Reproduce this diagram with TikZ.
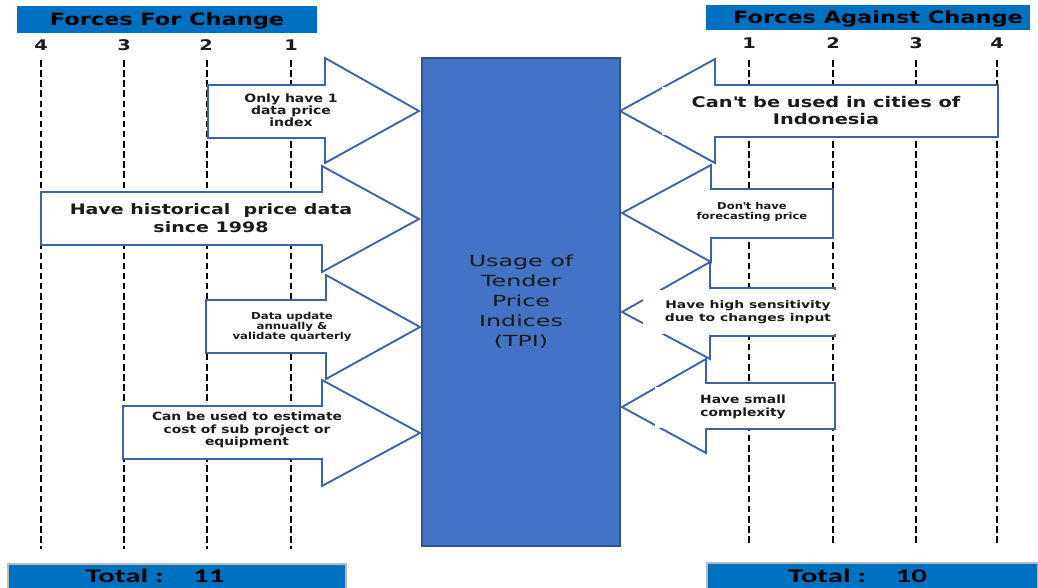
\documentclass[tikz,border=0pt]{standalone}
\usepackage{fontspec}
\newfontfamily\fA[FakeStretch=1.22]{DejaVu Sans}
\newfontfamily\fB[FakeStretch=1.32]{DejaVu Sans}
\newfontfamily\fC[FakeStretch=1.55]{DejaVu Sans}
\newfontfamily\fT[FakeStretch=1.6]{Carlito}
\definecolor{hdrblue}{HTML}{0070C0}
\definecolor{tpiblue}{HTML}{4472C4}
\definecolor{tpiedge}{HTML}{2F528F}
\definecolor{arredge}{HTML}{3D63A6}
\definecolor{ink}{HTML}{1A1A1A}
\newcommand\forcearrow[8]{\draw[forcebox] (#1,#4) -- (#2,#4) -- (#2,#6) -- (#3,#8) -- (#2,#7) -- (#2,#5) -- (#1,#5) -- cycle;}
\tikzset{
  gridline/.style={draw=black, line width=1.7pt, dash pattern=on 4.9pt off 2.7pt},
  forcebox/.style={draw=arredge, fill=white, line width=1.4pt, line join=miter},
  hdrbox/.style={fill=hdrblue, inner sep=0pt, text=black, font=\fB\bfseries\fontsize{12.75}{15}\selectfont, text height=9pt, text depth=0pt},
  totbox/.style={fill=hdrblue, draw=gray!55, line width=1.2pt, inner sep=0pt, text=black, font=\fT\bfseries\fontsize{14.5}{17}\selectfont, text height=7pt, text depth=0pt},
  numtext/.style={font=\fB\bfseries\fontsize{11}{13}\selectfont, inner sep=0pt, anchor=base, text=ink},
  lbl/.style={align=center, inner sep=0pt, text=ink},
  mask/.style={fill=white},
  tpibox/.style={fill=tpiblue, draw=tpiedge, line width=1pt, align=center, text=ink, font=\fC\fontsize{11.5}{15}\selectfont}
}
\begin{document}
\begin{tikzpicture}[x=0.75pt,y=-0.75pt]
\useasboundingbox[fill=white] (0,0) rectangle (1038,588);

% headers
\node[hdrbox, minimum width=300*0.75pt, minimum height=27*0.75pt] (hdrL) at (167,19.5) {Forces For Change};
\node[hdrbox, minimum width=324*0.75pt, minimum height=25*0.75pt] (hdrR) at (868,17.5) {\hspace*{15pt}Forces Against Change};

% scale numbers
\node[numtext] (nl4) at (41,51) {4};
\node[numtext] (nl3) at (124,51) {3};
\node[numtext] (nl2) at (206,51) {2};
\node[numtext] (nl1) at (291,51) {1};
\node[numtext] (nr1) at (749,49) {1};
\node[numtext] (nr2) at (833,49) {2};
\node[numtext] (nr3) at (916,49) {3};
\node[numtext] (nr4) at (997,49) {4};

% dashed scale lines
\foreach \x in {41,124,207,291} \draw[gridline] (\x,60) -- (\x,549);
\foreach \x in {749,833,916,997} \draw[gridline] (\x,60) -- (\x,546);

% forces for change (pointing right)
\forcearrow{208}{325}{419}{85}{138}{58}{163}{111}
\forcearrow{41}{322}{419}{192}{245}{166}{272}{219}
\forcearrow{206}{326}{420}{300}{353}{275}{379}{327}
\forcearrow{123}{322}{420}{406}{459}{380}{486}{433}

% forces against change (pointing left)
\forcearrow{998}{715}{620}{85}{137}{59}{163}{111}
\forcearrow{833}{711}{622}{189}{238}{165}{262}{213}
\forcearrow{835}{710}{622}{288}{336}{262}{359}{312}
\forcearrow{835}{706}{622}{383}{429}{359}{453}{407}

% labels, left
\node[lbl, font=\fA\bfseries\fontsize{8.6}{9}\selectfont] (tl1) at (291,110) {Only have 1\\data price\\index};
\node[lbl, font=\fB\bfseries\fontsize{10.8}{13.5}\selectfont] (tl2) at (211,218) {Have historical\ \ price data\\since 1998};
\node[lbl, font=\fA\bfseries\fontsize{7.2}{7.7}\selectfont] (tl3) at (292,327) {Data update\\annually \&\\validate quarterly};
\node[lbl, font=\fA\bfseries\fontsize{8.5}{9.4}\selectfont] (tl4) at (247,430) {Can be used to estimate\\cost of sub project or\\equipment};

% labels, right
\node[lbl, mask, minimum width=328*0.75pt, minimum height=48*0.75pt, font=\fB\bfseries\fontsize{11}{12.75}\selectfont] (tr1) at (826,111) {Can\textquotesingle t be used in cities of\\Indonesia};
\node[lbl, font=\fA\bfseries\fontsize{7.1}{7.9}\selectfont] (tr2) at (752,212) {Don\textquotesingle t have\\forecasting price};
\node[lbl, mask, minimum width=210*0.75pt, minimum height=44*0.75pt, font=\fB\bfseries\fontsize{7.9}{9.75}\selectfont] (tr3) at (748,312) {Have high sensitivity\\due to changes input};
\node[lbl, mask, minimum width=176*0.75pt, minimum height=41*0.75pt, font=\fA\bfseries\fontsize{8.5}{9.4}\selectfont] (tr4) at (743,407) {Have small\\complexity};

% central block
\node[tpibox, minimum width=198*0.75pt, minimum height=488*0.75pt] (tpi) at (521,302) {Usage of\\Tender\\Price\\Indices\\(TPI)};

% totals
\node[totbox, minimum width=338*0.75pt, minimum height=28*0.75pt] (totL) at (177,578) {Total :\hspace{22pt}11\hspace*{33pt}};
\node[totbox, minimum width=331*0.75pt, minimum height=29*0.75pt] (totR) at (872.5,577.5) {Total :\hspace{22pt}10\hspace*{22.5pt}};
\end{tikzpicture}
\end{document}
